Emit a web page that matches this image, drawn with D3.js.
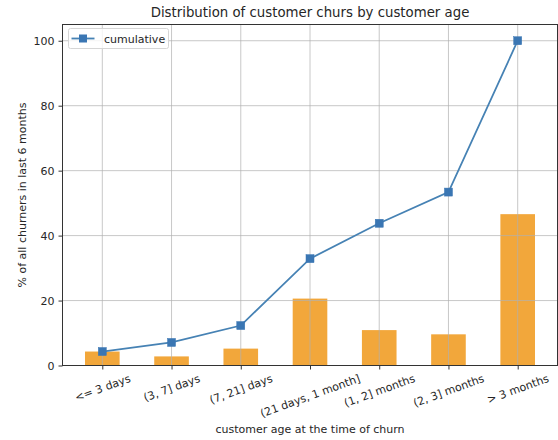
<!DOCTYPE html>
<html><head><meta charset="utf-8">
<script src="https://cdn.jsdelivr.net/npm/d3@7"></script>
<style>
body{margin:0;background:#fff;}
text{font-family:"DejaVu Sans",sans-serif;fill:#262626;}
</style></head>
<body>
<svg id="c" width="558" height="440"></svg>
<script>
const categories = ["<= 3 days","(3, 7] days","(7, 21] days","(21 days, 1 month]","(1, 2] months","(2, 3] months","> 3 months"];
const share = [4.3, 2.8, 5.2, 20.6, 10.9, 9.6, 46.6];
const cumulative = [4.3, 7.1, 12.3, 32.9, 43.8, 53.4, 100];
const yTicks = [0, 20, 40, 60, 80, 100];

const svg = d3.select("#c");
const L = 62.5, R = 557.5, T = 24.5, B = 365.5;
const x = d3.scaleLinear().domain([-0.575, 6.575]).range([L, R]);
const y = d3.scaleLinear().domain([0, 105]).range([B, T]);

// bars
svg.append("g").selectAll("rect").data(share).join("rect")
  .attr("x", (d,i)=>x(i-0.25)).attr("width", x(0.25)-x(-0.25))
  .attr("y", d=>y(d)).attr("height", d=>y(0)-y(d))
  .attr("fill", "#f2a73b");

// grid
const g = svg.append("g");
g.selectAll("line.v").data(categories).join("line")
  .attr("x1",(d,i)=>x(i)).attr("x2",(d,i)=>x(i)).attr("y1",T).attr("y2",B)
  .attr("stroke","#b0b0b0").attr("stroke-opacity",0.7).attr("stroke-width",1);
g.selectAll("line.h").data(yTicks).join("line")
  .attr("x1",L).attr("x2",R).attr("y1",d=>y(d)).attr("y2",d=>y(d))
  .attr("stroke","#b0b0b0").attr("stroke-opacity",0.7).attr("stroke-width",1);

// line
const line = d3.line().x((d,i)=>x(i)).y(d=>y(d));
svg.append("path").datum(cumulative).attr("d", line)
  .attr("fill","none").attr("stroke","#4682b4").attr("stroke-width",1.8);
svg.append("g").selectAll("rect").data(cumulative).join("rect")
  .attr("x",(d,i)=>x(i)-4).attr("y",d=>y(d)-4).attr("width",8).attr("height",8)
  .attr("fill","#3a76b3").attr("stroke","#3a76b3").attr("stroke-width",0.5);

// frame
svg.append("rect").attr("x",L).attr("y",T).attr("width",R-L).attr("height",B-T)
  .attr("fill","none").attr("stroke","#333").attr("stroke-width",1);

// y axis
const ya = svg.append("g").attr("transform",`translate(${L},0)`)
  .call(d3.axisLeft(y).tickValues(yTicks).tickSize(4).tickPadding(4));
ya.select(".domain").remove();
ya.selectAll("line").attr("stroke","#333");
ya.selectAll("text").attr("font-size",11).attr("fill","#262626").style("font-family","DejaVu Sans");

// x axis
const xa = svg.append("g").attr("transform",`translate(0,${B})`)
  .call(d3.axisBottom(x).tickValues(d3.range(categories.length)).tickFormat(i=>categories[i]).tickSize(4));
xa.select(".domain").remove();
xa.selectAll("line").attr("stroke","#333");
const ang = 20 * Math.PI / 180;
xa.selectAll("text").attr("font-size",11).attr("fill","#262626").style("font-family","DejaVu Sans")
  .attr("text-anchor","middle").attr("dy",0).attr("y",0).attr("dominant-baseline","middle")
  .each(function(){
    const w = this.getComputedTextLength();
    const h = 13;
    const cy = 7 + (w*Math.sin(ang) + h*Math.cos(ang))/2;
    d3.select(this).attr("transform",`translate(0,${cy}) rotate(-20)`);
  });

// labels
svg.append("text").attr("x",(L+R)/2).attr("y",17).attr("text-anchor","middle")
  .attr("font-size",13.3).text("Distribution of customer churs by customer age");
svg.append("text").attr("x",(L+R)/2).attr("y",433).attr("text-anchor","middle")
  .attr("font-size",11).text("customer age at the time of churn");
svg.append("text").attr("transform",`translate(26,${(T+B)/2}) rotate(-90)`).attr("text-anchor","middle")
  .attr("font-size",11).text("% of all churners in last 6 months");

// legend
const lg = svg.append("g").attr("transform",`translate(68.5,28.5)`);
lg.append("rect").attr("x",0).attr("y",0).attr("width",100).attr("height",20).attr("rx",2)
  .attr("fill","#fff").attr("fill-opacity",0.8).attr("stroke","#d6d6d6");
lg.append("line").attr("x1",3).attr("x2",26).attr("y1",10).attr("y2",10).attr("stroke","#4682b4").attr("stroke-width",1.8);
lg.append("rect").attr("x",10.5).attr("y",6).attr("width",8).attr("height",8).attr("fill","#3a76b3");
lg.append("text").attr("x",35.5).attr("y",14).attr("font-size",11).text("cumulative");
</script>
</body></html>
